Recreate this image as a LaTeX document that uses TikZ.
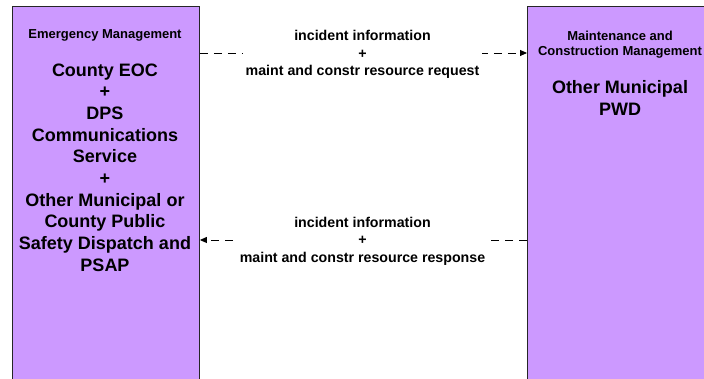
\documentclass[tikz,border=0pt]{standalone}
\usepackage{fontspec}
\setmainfont{Liberation Sans}
\usetikzlibrary{arrows.meta}
\definecolor{boxfill}{HTML}{CC99FF}
\tikzset{
  sysbox/.style={draw=black!85, line width=0.9pt, fill=boxfill, anchor=north west, inner sep=0pt},
  smalltxt/.style={font=\bfseries\fontsize{13}{15}\selectfont, align=center, inner sep=0pt},
  bigtxt/.style={font=\bfseries\fontsize{18}{21.7}\selectfont, align=center, inner sep=0pt},
  flowlbl/.style={font=\bfseries\fontsize{14.2}{17.6}\selectfont, align=center, fill=white, inner sep=3pt},
  flow/.style={line width=0.9pt, dash pattern=on 8pt off 6pt, -{Triangle[length=7pt,width=6pt]}}
}
\begin{document}
\begin{tikzpicture}[x=1pt,y=1pt]
\useasboundingbox (0,0) rectangle (704,379);
\clip (0,0) rectangle (704,379);
\node[sysbox, minimum width=187.5pt, minimum height=385pt] (em) at (11.5,373) {};
\node[sysbox, minimum width=187.5pt, minimum height=385pt] (mc) at (527,372.5) {};
\node[smalltxt] (emtitle) at (105,344) {Emergency Management};
\node[bigtxt] (emname) at (105,211.5) {County EOC\\+\\DPS\\Communications\\Service\\+\\Other Municipal or\\County Public\\Safety Dispatch and\\PSAP};
\node[smalltxt] (mctitle) at (620,334.5) {Maintenance and\\Construction Management};
\node[bigtxt] (mcname) at (620,281) {Other Municipal\\PWD};
\coordinate (a1) at (em.east |- 0,326);
\coordinate (b1) at (mc.west |- 0,326);
\coordinate (a2) at (em.east |- 0,139);
\coordinate (b2) at (mc.west |- 0,139);
\draw[flow] (a1) -- (b1);
\draw[flow] (b2) -- (a2);
\node[flowlbl] (l1) at (362.5,324.5) {incident information\\+\\maint and constr resource request};
\node[flowlbl] (l2) at (362.5,138) {incident information\\+\\maint and constr resource response};
\end{tikzpicture}
\end{document}
